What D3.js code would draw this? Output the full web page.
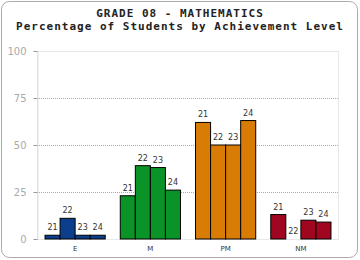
<!DOCTYPE html>
<html>
<head>
<meta charset="utf-8">
<script src="https://cdn.jsdelivr.net/npm/d3@7"></script>
<style>
  body { margin: 0; background: #fff; }
  svg text { font-family: "DejaVu Sans", sans-serif; }
  .title { font-family: "DejaVu Sans Mono", monospace; font-weight: bold; font-size: 11px; letter-spacing: 1px; fill: #222; }
</style>
</head>
<body>
<div id="chart"></div>
<script>
// levels on the x axis, grades inside each level
const levels = ['E', 'M', 'PM', 'NM'];
const grades = ['21', '22', '23', '24'];
const yTicks = [0, 25, 50, 75, 100];
// percentage per level, one value per grade
const valuesE = [2, 11, 2, 2];
const valuesM = [23, 39, 38, 26];
const valuesPM = [62, 50, 50, 63];
const valuesNM = [13, 0, 10, 9];
const colors = ['#0b3f8e', '#0a9326', '#d97c06', '#a0061f'];

const data = levels.map((lv, i) => ({
  level: lv,
  color: colors[i],
  values: [valuesE, valuesM, valuesPM, valuesNM][i].map((v, j) => ({ grade: grades[j], value: v }))
}));

const W = 360, H = 260;
const margin = { top: 51, right: 22, bottom: 21, left: 37 };

const svg = d3.select('#chart').append('svg')
  .attr('width', W).attr('height', H);

// outer frame
svg.append('rect')
  .attr('x', 1.5).attr('y', 1.5)
  .attr('width', W - 4).attr('height', H - 4)
  .attr('rx', 8).attr('ry', 8)
  .attr('fill', '#fff').attr('stroke', '#aaa').attr('stroke-width', 1);

svg.append('text').attr('class', 'title')
  .attr('x', W / 2).attr('y', 17).attr('text-anchor', 'middle')
  .text('GRADE 08 - MATHEMATICS');
svg.append('text').attr('class', 'title')
  .attr('x', W / 2).attr('y', 30).attr('text-anchor', 'middle')
  .text('Percentage of Students by Achievement Level');

const x0 = d3.scaleBand()
  .domain(levels)
  .range([margin.left + 0.5, W - margin.right + 0.5])
  .paddingInner(0.2)
  .paddingOuter(0.1);

const x1 = d3.scaleBand()
  .domain(grades)
  .range([0, x0.bandwidth()]);

const y = d3.scaleLinear()
  .domain([0, 100])
  .range([H - margin.bottom, margin.top]);

const chart = svg.append('g');

// plot frame
chart.append('rect')
  .attr('x', margin.left + 0.5).attr('y', y(100) + 0.5)
  .attr('width', W - margin.right - margin.left).attr('height', y(0) - y(100))
  .attr('fill', 'none').attr('stroke', '#e8e8e8');

// gridlines
chart.selectAll('.grid')
  .data(yTicks.filter(t => t > 0 && t < 100))
  .enter().append('line')
  .attr('x1', margin.left).attr('x2', W - margin.right)
  .attr('y1', d => Math.round(y(d)) + 0.5).attr('y2', d => Math.round(y(d)) + 0.5)
  .attr('stroke', '#aaa').attr('stroke-dasharray', '1,1');

// y axis
const yAxis = chart.append('g')
  .attr('transform', `translate(${margin.left + 0.5},0)`)
  .call(d3.axisLeft(y).tickValues(yTicks).tickSize(4).tickPadding(7));
yAxis.select('.domain').attr('stroke', '#e0e0e0');
yAxis.selectAll('.tick line').attr('stroke', '#999');
yAxis.selectAll('.tick text').attr('fill', '#aaa').style('font-size', '10px');

// x labels
chart.selectAll('.xlab')
  .data(levels)
  .enter().append('text')
  .attr('x', d => x0(d) + x0.bandwidth() / 2)
  .attr('y', H - 9)
  .attr('text-anchor', 'middle')
  .attr('fill', '#333')
  .style('font-size', '7px')
  .text(d => d);

const groups = chart.selectAll('.group')
  .data(data)
  .enter().append('g')
  .attr('transform', d => `translate(${x0(d.level)},0)`);

groups.selectAll('rect')
  .data(d => d.values.filter(v => v.value > 0).map(v => ({ ...v, color: d.color })))
  .enter().append('rect')
  .attr('x', d => x1(d.grade))
  .attr('y', d => y(d.value))
  .attr('width', x1.bandwidth())
  .attr('height', d => y(0) - y(d.value))
  .attr('fill', d => d.color)
  .attr('stroke', '#000')
  .attr('stroke-width', 1);

groups.selectAll('.vlab')
  .data(d => d.values)
  .enter().append('text')
  .attr('x', d => x1(d.grade) + x1.bandwidth() / 2)
  .attr('y', d => y(d.value) - 5)
  .attr('text-anchor', 'middle')
  .attr('fill', '#333')
  .style('font-size', '8px')
  .text(d => d.grade);
</script>
</body>
</html>
